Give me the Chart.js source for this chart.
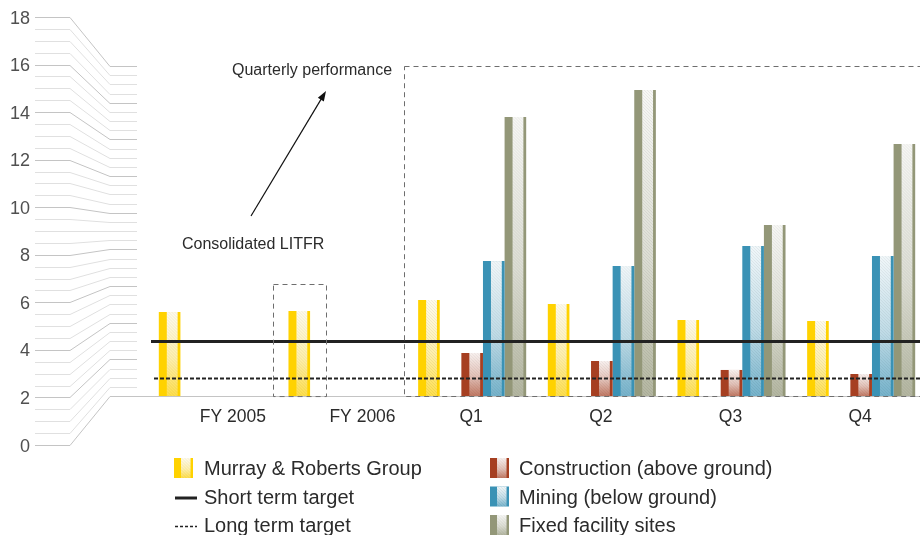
<!DOCTYPE html>
<html>
<head>
<meta charset="utf-8">
<title>Consolidated LTIFR</title>
<script src="https://cdn.jsdelivr.net/npm/chart.js@4.4.0/dist/chart.umd.min.js"></script>
<style>
    html, body { margin: 0; padding: 0; overflow: hidden; background: #fff; }
    #wrap { width: 930px; height: 535px; }
</style>
</head>
<body>
<div id="wrap"><canvas id="graphic" width="930" height="535"></canvas></div>
<script>
//categories on the x axis
const annualLabels = ["FY 2005", "FY 2006"];
const quarterLabels = ["Q1", "Q2", "Q3", "Q4"];
const categories = annualLabels.concat(quarterLabels);

//LTIFR values
const groupValues = [4.58, 4.64, 5.24, 5.02, 4.15, 4.09];
const constructionValues = [null, null, 2.35, 1.91, 1.42, 1.20];
const miningValues = [null, null, 7.36, 7.09, 8.18, 7.64];
const fixedValues = [null, null, 15.22, 16.69, 9.33, 13.75];

//targets
const shortTermTarget = 3.0;
const longTermTarget = 1.0;

//y axis
const yMax = 18;
const yTickLabels = [0, 2, 4, 6, 8, 10, 12, 14, 16, 18];
const yMinorStep = 0.5;

const FONT = '"Liberation Sans", Arial, Helvetica, sans-serif';
const TEXT = "#2b2b2b";

const colors = {
    group: "#FFD200",
    construction: "#A63F21",
    mining: "#3A92B5",
    fixed: "#939778"
};

//pale striped half of a bar (white fade from top to bottom + thin hatch)
function paleStrip(ctx, left, top, width, bottom) {
    const x0 = left + width * 0.37;
    const x1 = left + width * 0.87;
    const g = ctx.createLinearGradient(0, top, 0, bottom);
    g.addColorStop(0, "rgba(255,255,255,0.93)");
    g.addColorStop(0.55, "rgba(255,255,255,0.68)");
    g.addColorStop(1, "rgba(255,255,255,0.3)");
    ctx.fillStyle = g;
    ctx.fillRect(x0, top, x1 - x0, bottom - top);
    ctx.save();
    ctx.beginPath();
    ctx.rect(x0, top, x1 - x0, bottom - top);
    ctx.clip();
    ctx.strokeStyle = "rgba(0,0,0,0.06)";
    ctx.lineWidth = 1;
    ctx.beginPath();
    const dx = x1 - x0;
    for (let yy = top - dx; yy < bottom; yy += 3) {
        ctx.moveTo(x0, yy);
        ctx.lineTo(x1, yy + dx);
    }
    ctx.stroke();
    ctx.restore();
}

function dashedBox(ctx, left, top, right, bottom) {
    ctx.save();
    ctx.strokeStyle = "#6e6e6e";
    ctx.lineWidth = 1;
    ctx.setLineDash([5, 4]);
    ctx.strokeRect(Math.round(left) + 0.5, Math.round(top) + 0.5, right - left, bottom - top);
    ctx.restore();
}

const decorPlugin = {
    id: "decor",
    beforeDatasetsDraw(chart) {
        const ctx = chart.ctx;
        const y = chart.scales.y;
        const area = chart.chartArea;
        //the fanned out axis on the left
        const leftTop = area.top - 49;
        const leftBottom = area.bottom + 49;
        ctx.save();
        ctx.lineWidth = 1;
        for (let v = 0; v <= yMax; v += yMinorStep) {
            const ly = Math.round(leftBottom - (leftBottom - leftTop) * v / yMax) + 0.5;
            const ry = Math.round(y.getPixelForValue(v)) + 0.5;
            const major = yTickLabels.indexOf(v) !== -1;
            ctx.strokeStyle = major ? "#c4c4c4" : "#e0e0e0";
            ctx.beginPath();
            ctx.moveTo(35, ly);
            ctx.lineTo(70, ly);
            ctx.lineTo(110, ry);
            ctx.lineTo(v === 0 ? chart.width : 137, ry);
            ctx.stroke();
        }
        ctx.fillStyle = "#505050";
        ctx.font = "18px " + FONT;
        ctx.textAlign = "right";
        ctx.textBaseline = "alphabetic";
        yTickLabels.forEach(v => {
            const ly = leftBottom - (leftBottom - leftTop) * v / yMax;
            ctx.fillText(String(v), 30, ly + 6.5);
        });
        ctx.restore();
    },
    afterDatasetsDraw(chart) {
        const ctx = chart.ctx;
        const x = chart.scales.x;
        const y = chart.scales.y;
        const area = chart.chartArea;

        //pale half on every bar
        chart.getSortedVisibleDatasetMetas().forEach(meta => {
            meta.data.forEach((bar, i) => {
                if (meta._parsed[i] == null || meta._parsed[i].y == null || isNaN(meta._parsed[i].y)) return;
                const p = bar.getProps(["x", "y", "base", "width"], true);
                paleStrip(ctx, p.x - p.width / 2, p.y, p.width, p.base);
            });
        });

        //target lines
        ctx.save();
        const sy = Math.round(y.getPixelForValue(shortTermTarget)) + 0.5;
        ctx.strokeStyle = "#222";
        ctx.lineWidth = 3;
        ctx.beginPath();
        ctx.moveTo(151, sy);
        ctx.lineTo(chart.width, sy);
        ctx.stroke();
        const ly = Math.round(y.getPixelForValue(longTermTarget)) + 0.5;
        ctx.lineWidth = 2;
        ctx.setLineDash([4, 2]);
        ctx.beginPath();
        ctx.moveTo(154, ly);
        ctx.lineTo(chart.width, ly);
        ctx.stroke();
        ctx.restore();

        //dashed boxes: FY 2006 bar and the quarterly block
        const groupMeta = chart.getDatasetMeta(0);
        const fy06 = groupMeta.data[1].getProps(["x", "y", "width"], true);
        dashedBox(ctx, fy06.x - 26.5, fy06.y - 27, fy06.x + 26.5, area.bottom);
        const q1 = groupMeta.data[annualLabels.length].getProps(["x", "width"], true);
        dashedBox(ctx, q1.x - q1.width / 2 - 14, area.top, chart.width + 10, area.bottom);

        //x labels
        ctx.save();
        ctx.fillStyle = TEXT;
        ctx.font = "17.5px " + FONT;
        ctx.textAlign = "center";
        ctx.textBaseline = "alphabetic";
        categories.forEach((c, i) => {
            const shift = i < annualLabels.length ? 20 : -1;
            ctx.fillText(c, x.getPixelForValue(i) + shift, area.bottom + 26);
        });

        //annotations
        ctx.font = "16px " + FONT;
        ctx.textAlign = "left";
        ctx.fillText("Quarterly performance", 232, 75);
        ctx.fillText("Consolidated LITFR", 182, 249);
        ctx.strokeStyle = "#111";
        ctx.fillStyle = "#111";
        ctx.lineWidth = 1.2;
        const ax0 = 251, ay0 = 216, ax1 = 326, ay1 = 91;
        const ang = Math.atan2(ay1 - ay0, ax1 - ax0);
        ctx.beginPath();
        ctx.moveTo(ax0, ay0);
        ctx.lineTo(ax1 - 8 * Math.cos(ang), ay1 - 8 * Math.sin(ang));
        ctx.stroke();
        ctx.beginPath();
        ctx.moveTo(ax1, ay1);
        ctx.lineTo(ax1 - 10 * Math.cos(ang) + 3.5 * Math.sin(ang), ay1 - 10 * Math.sin(ang) - 3.5 * Math.cos(ang));
        ctx.lineTo(ax1 - 10 * Math.cos(ang) - 3.5 * Math.sin(ang), ay1 - 10 * Math.sin(ang) + 3.5 * Math.cos(ang));
        ctx.closePath();
        ctx.fill();
        ctx.restore();

        //legend, two columns
        drawLegend(chart);
    }
};

function drawLegend(chart) {
    const ctx = chart.ctx;
    const rows = [475, 503.5, 532];
    const items = [
        {col: 0, row: 0, kind: "bar", color: colors.group, text: "Murray & Roberts Group"},
        {col: 0, row: 1, kind: "solid", text: "Short term target"},
        {col: 0, row: 2, kind: "dash", text: "Long term target"},
        {col: 1, row: 0, kind: "bar", color: colors.construction, text: "Construction (above ground)"},
        {col: 1, row: 1, kind: "bar", color: colors.mining, text: "Mining (below ground)"},
        {col: 1, row: 2, kind: "bar", color: colors.fixed, text: "Fixed facility sites"}
    ];
    const markX = [174, 490];
    const textX = [204, 519];
    ctx.save();
    ctx.font = "20px " + FONT;
    ctx.textAlign = "left";
    ctx.textBaseline = "alphabetic";
    items.forEach(it => {
        const base = rows[it.row];
        const mx = markX[it.col];
        if (it.kind === "bar") {
            ctx.fillStyle = it.color;
            ctx.fillRect(mx, base - 17, 19, 20);
            paleStrip(ctx, mx, base - 17, 19, base + 3);
        } else {
            ctx.strokeStyle = "#222";
            ctx.lineWidth = it.kind === "solid" ? 3 : 1.5;
            ctx.setLineDash(it.kind === "solid" ? [] : [3, 2]);
            ctx.beginPath();
            ctx.moveTo(mx + 1, base - 5.5);
            ctx.lineTo(mx + 23, base - 5.5);
            ctx.stroke();
            ctx.setLineDash([]);
        }
        ctx.fillStyle = TEXT;
        ctx.fillText(it.text, textX[it.col], base);
    });
    ctx.restore();
}

//empty series that keeps the gap between the group bar and the divisions
const spacerValues = [null, null, null, null, null, null];

const config = {
    type: "bar",
    data: {
        labels: categories,
        datasets: [{
            label: "Murray & Roberts Group",
            backgroundColor: colors.group,
            data: groupValues
        }, {
            label: "",
            backgroundColor: "rgba(0,0,0,0)",
            data: spacerValues
        }, {
            label: "Construction (above ground)",
            backgroundColor: colors.construction,
            data: constructionValues
        }, {
            label: "Mining (below ground)",
            backgroundColor: colors.mining,
            data: miningValues
        }, {
            label: "Fixed facility sites",
            backgroundColor: colors.fixed,
            data: fixedValues
        }]
    },
    options: {
        responsive: false,
        animation: false,
        devicePixelRatio: 1,
        layout: { padding: { left: 148, right: 4, top: 66, bottom: 139 } },
        datasets: { bar: { categoryPercentage: 5 / 6, barPercentage: 1, borderWidth: 0 } },
        scales: {
            x: { display: false, offset: true },
            y: { display: false, min: 0, max: yMax }
        },
        plugins: {
            legend: { display: false },
            tooltip: { enabled: false }
        }
    },
    plugins: [decorPlugin]
};

const myChart = new Chart(document.getElementById("graphic"), config);
</script>
</body>
</html>
